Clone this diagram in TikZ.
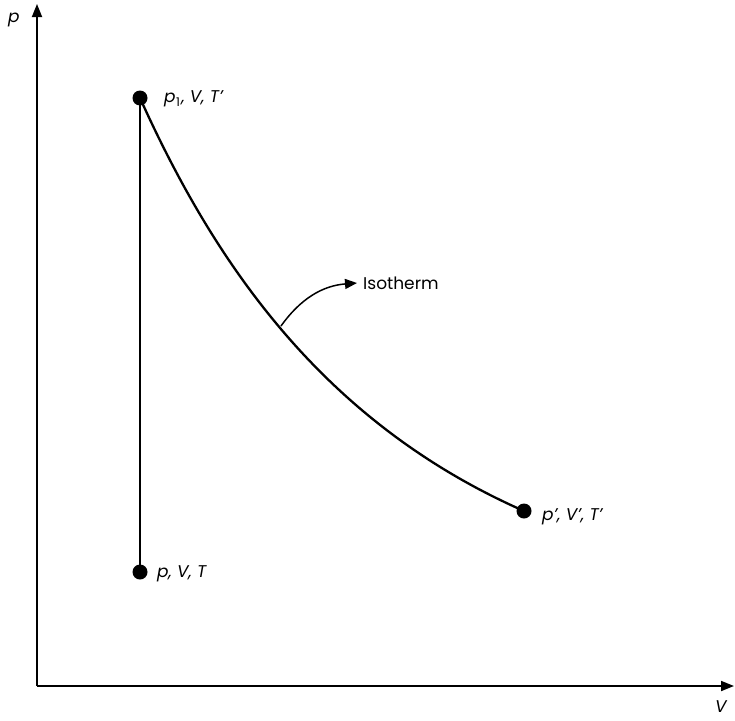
\documentclass[tikz,border=0pt]{standalone}
\usepackage{fontspec}
\setmainfont{Poppins}
\usetikzlibrary{arrows.meta}
\begin{document}
\begin{tikzpicture}[x=1pt,y=-1pt,
  axis/.style={line width=1.8pt,-{Triangle[length=13pt,width=10pt]}},
  curveline/.style={line width=2.3pt},
  dot/.style={circle,fill=black,inner sep=0pt,minimum size=15pt},
  lbl/.style={font=\itshape\fontsize{17}{19}\selectfont,anchor=west,inner sep=0pt},
  txt/.style={font=\fontsize{17}{19}\selectfont,anchor=west,inner sep=0pt}]
\useasboundingbox (0,0) rectangle (735,720);
\coordinate (O) at (37,686);
\coordinate (Ytop) at (37,4);
\coordinate (Xend) at (734,686);
\draw[axis] (O) -- (Ytop);
\draw[axis] (O) -- (Xend);
\node[lbl] (plab) at (8,20) {p};
\node[lbl] (vlab) at (715,707) {V};
\node[dot] (A) at (140,98) {};
\node[dot] (B) at (140,572) {};
\node[dot] (C) at (524,511) {};
\draw[curveline] (A.center) -- (B.center);
\draw[curveline] (A.center) .. controls (214,262) and (322,422) .. (C.center);
\node[lbl] (Alab) at (164,99) {p\kern0.5pt{\upshape\raisebox{-0.4ex}{\fontsize{12}{13}\selectfont 1}}\kern1.5pt, V, T'};
\node[lbl] (Blab) at (157,574) {p, V, T};
\node[lbl] (Clab) at (542,517) {p', V', T'};
\coordinate (iso) at (281,326);
\node[txt] (isotxt) at (363,283) {Isotherm};
\draw[line width=1.5pt,-{Triangle[length=12pt,width=10pt]}] (iso) to[bend left=25] ([xshift=-6pt]isotxt.west);
\end{tikzpicture}
\end{document}
